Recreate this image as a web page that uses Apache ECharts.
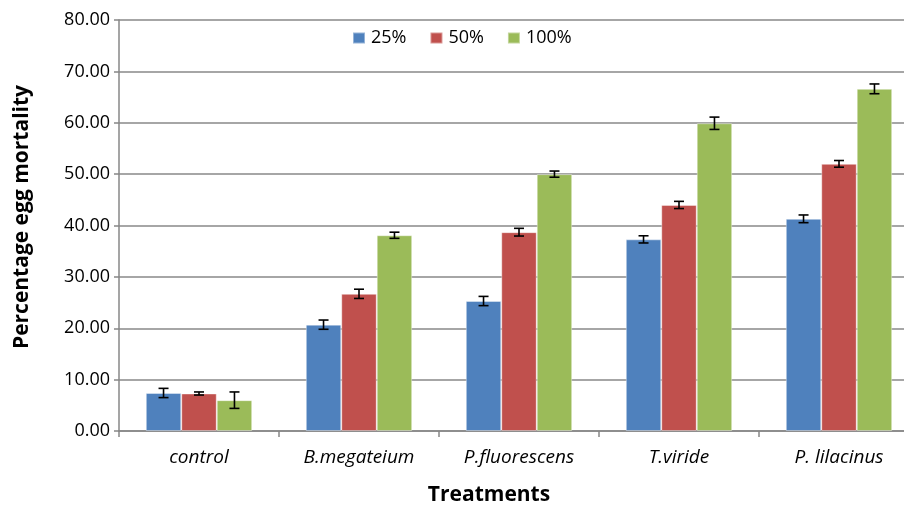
<!DOCTYPE html>
<html>
<head>
<meta charset="utf-8">
<script src="https://cdn.jsdelivr.net/npm/echarts@6/dist/echarts.min.js"></script>
<style>
  html, body { margin: 0; padding: 0; background: #fff; }
  #chart { width: 904px; height: 506px; }
</style>
</head>
<body>
<div id="chart"></div>
<script>
// data
var treatments = ["control", "B.megateium", "P.fluorescens", "T.viride", "P. lilacinus"];
var seriesNames = ["25%", "50%", "100%"];
var mean25 = [7.4, 20.7, 25.3, 37.3, 41.3];
var mean50 = [7.3, 26.7, 38.7, 44.0, 52.0];
var mean100 = [6.0, 38.1, 50.0, 59.9, 66.6];
var err25 = [0.9, 0.9, 0.9, 0.7, 0.75];
var err50 = [0.3, 0.9, 0.75, 0.7, 0.65];
var err100 = [1.6, 0.6, 0.6, 1.2, 0.95];
var colors = ["#4F81BD", "#C0504D", "#9BBB59"];

var means = [mean25, mean50, mean100];
var errs = [err25, err50, err100];
var catGap = 0.335;
var font = "Open Sans";

var chart = echarts.init(document.getElementById("chart"));

function errorSeries(k) {
  var data = treatments.map(function (t, i) {
    return [i, means[k][i] - errs[k][i], means[k][i] + errs[k][i]];
  });
  return {
    type: "custom",
    name: seriesNames[k],
    data: data,
    z: 10,
    clip: false,
    encode: { x: 0, y: [1, 2] },
    renderItem: function (params, api) {
      var band = api.size([1, 0])[0];
      var barW = band * (1 - catGap) / 3;
      var off = (k - 1) * barW;
      var lo = api.coord([api.value(0), api.value(1)]);
      var hi = api.coord([api.value(0), api.value(2)]);
      var x = lo[0] + off;
      var cap = 5;
      var style = { stroke: "#000", lineWidth: 1.6 };
      return {
        type: "group",
        children: [
          { type: "line", shape: { x1: x, y1: lo[1], x2: x, y2: hi[1] }, style: style },
          { type: "line", shape: { x1: x - cap, y1: lo[1], x2: x + cap, y2: lo[1] }, style: style },
          { type: "line", shape: { x1: x - cap, y1: hi[1], x2: x + cap, y2: hi[1] }, style: style }
        ]
      };
    }
  };
}

var series = [];
for (var k = 0; k < 3; k++) {
  series.push({
    name: seriesNames[k],
    type: "bar",
    data: means[k],
    barGap: "0%",
    barCategoryGap: (catGap * 100) + "%",
    itemStyle: { color: colors[k], borderColor: "rgba(255,255,255,0.4)", borderWidth: 1 },
    animation: false
  });
}
for (var k = 0; k < 3; k++) {
  series.push(errorSeries(k));
}

chart.setOption({
  animation: false,
  textStyle: { fontFamily: font },
  grid: { left: 119, width: 800, top: 20, bottom: 75, outerBoundsMode: "none" },
  legend: {
    data: seriesNames.map(function (n, i) {
      return { name: n, itemStyle: { color: colors[i] } };
    }),
    left: 352,
    top: 29,
    padding: 0,
    itemWidth: 12,
    itemHeight: 11,
    itemGap: 23,
    icon: "rect",
    textStyle: { fontFamily: font, fontSize: 18, color: "#000", padding: [0, 0, 0, 1] }
  },
  xAxis: {
    type: "category",
    data: treatments,
    axisLine: { lineStyle: { color: "#878787", width: 1.5 } },
    axisTick: { show: true, alignWithLabel: false, length: 6, lineStyle: { color: "#878787", width: 1.5 } },
    axisLabel: { fontFamily: font, fontStyle: "italic", fontSize: 19, color: "#000", margin: 17 }
  },
  yAxis: {
    type: "value",
    min: 0,
    max: 80,
    interval: 10,
    axisLine: { show: true, lineStyle: { color: "#878787", width: 1.5 } },
    axisTick: { show: true, length: 5, lineStyle: { color: "#878787", width: 1.5 } },
    splitLine: { lineStyle: { color: "#a6a6a6", width: 2 } },
    axisLabel: {
      fontFamily: font, fontSize: 18, color: "#000", margin: 9,
      formatter: function (v) { return v.toFixed(2); }
    }
  },
  graphic: [
    {
      type: "text",
      x: 22, y: 217,
      rotation: Math.PI / 2,
      style: {
        text: "Percentage egg mortality",
        font: "bold 21px '" + font + "'",
        fill: "#000",
        textAlign: "center",
        textVerticalAlign: "middle"
      }
    },
    {
      type: "text",
      x: 489, y: 495,
      style: {
        text: "Treatments",
        font: "bold 21px '" + font + "'",
        fill: "#000",
        textAlign: "center",
        textVerticalAlign: "middle"
      }
    }
  ],
  series: series
});
</script>
</body>
</html>
